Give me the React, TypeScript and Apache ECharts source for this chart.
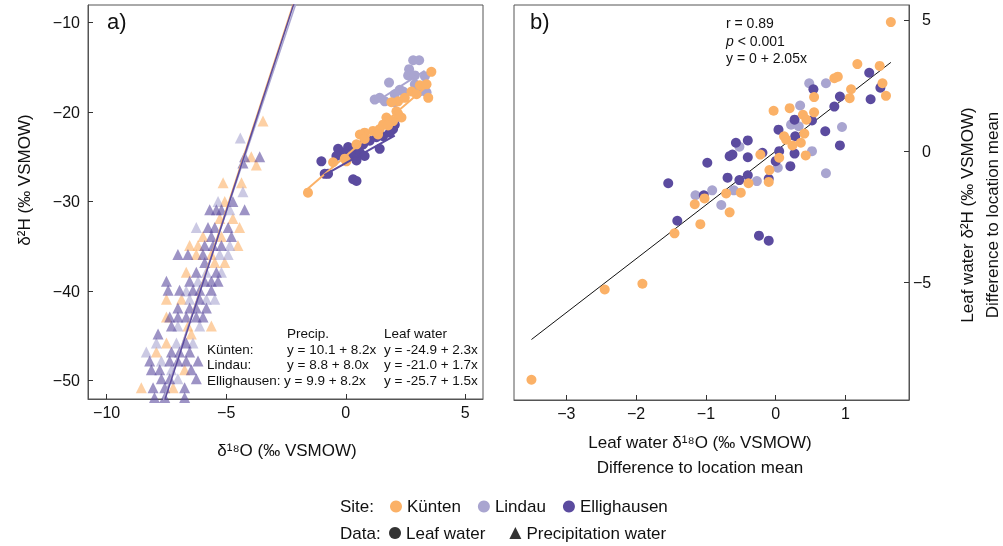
import React, { useEffect, useRef } from "react";
import * as echarts from "echarts";

const FONT = "'Liberation Sans', Arial, Helvetica, sans-serif";

const SITES = ["Künten", "Lindau", "Ellighausen"];
const SITE_COLORS = ["#FBB167", "#A9A5D0", "#5B4B9F"];

// Panel a: precipitation water (δ18O, δ2H)
const precipKunten: number[][] = [
  [-3.46, -21.0], [-3.95, -25.0], [-3.74, -25.9], [-5.13, -27.9], [-4.36, -27.9], [-5.06, -30.0],
  [-5.27, -31.9], [-4.72, -31.9], [-4.44, -32.9], [-5.97, -33.9], [-5.2, -33.9], [-6.53, -34.9],
  [-6.18, -34.9], [-4.51, -34.9], [-6.25, -35.9], [-5.62, -35.9], [-5.48, -36.8], [-5.06, -36.8],
  [-6.67, -37.9], [-7.5, -40.9], [-6.87, -40.9], [-7.5, -42.9], [-6.6, -43.9], [-5.62, -43.9],
  [-6.46, -44.8], [-7.5, -45.8], [-7.92, -46.8], [-6.74, -48.8], [-8.55, -50.8], [-7.22, -50.8],
];
const precipLindau: number[][] = [
  [-4.41, -22.9], [-4.3, -28.9], [-5.34, -30.0], [-4.85, -30.9], [-6.25, -32.9], [-4.85, -34.9],
  [-5.27, -35.9], [-4.92, -35.9], [-5.83, -37.9], [-5.2, -37.9], [-6.18, -38.9], [-6.53, -40.9],
  [-5.83, -40.9], [-5.48, -40.9], [-7.02, -43.9], [-6.11, -43.9], [-7.92, -45.8], [-7.08, -45.8],
  [-6.39, -45.8], [-8.34, -46.8], [-7.71, -47.8], [-7.29, -48.8], [-7.02, -49.8], [-6.67, -40.0],
];
const precipEllighausen: number[][] = [
  [-4.23, -25.0], [-3.6, -25.0], [-4.3, -25.7], [-4.72, -30.0], [-5.69, -30.9], [-5.41, -30.9],
  [-5.2, -30.9], [-4.23, -30.9], [-5.76, -32.9], [-5.48, -32.9], [-4.92, -32.9], [-5.62, -33.9],
  [-4.78, -33.9], [-5.9, -34.9], [-5.55, -34.9], [-5.2, -34.9], [-7.02, -35.9], [-6.6, -35.9],
  [-5.97, -35.9], [-5.9, -36.8], [-6.25, -37.9], [-5.41, -37.9], [-7.5, -38.9], [-6.53, -38.9],
  [-5.9, -38.9], [-5.62, -38.9], [-5.34, -38.9], [-7.43, -39.9], [-6.95, -39.9], [-6.39, -39.9],
  [-6.11, -39.9], [-5.62, -39.9], [-6.11, -40.9], [-7.02, -41.9], [-6.53, -41.9], [-6.25, -41.9],
  [-5.83, -41.9], [-7.36, -42.9], [-7.02, -42.9], [-6.67, -42.9], [-6.25, -42.9], [-5.97, -42.9],
  [-7.29, -43.9], [-7.85, -44.8], [-6.67, -45.8], [-7.29, -46.8], [-6.95, -46.8], [-6.53, -46.8],
  [-8.2, -47.8], [-7.36, -47.8], [-7.02, -47.8], [-6.67, -47.8], [-6.18, -47.8], [-8.13, -48.8],
  [-7.78, -48.8], [-6.46, -48.8], [-7.71, -49.8], [-7.36, -49.8], [-6.25, -49.8], [-8.06, -50.8],
  [-7.57, -50.8], [-6.74, -50.8], [-8.0, -51.9], [-7.57, -51.9], [-6.74, -51.9],
];

// Panel a: leaf water
const leafKunten: number[][] = [
  [3.58, -15.5], [3.1, -17.0], [3.38, -16.9], [2.75, -17.7], [2.96, -18.0], [3.45, -18.4],
  [2.47, -18.4], [2.19, -18.8], [1.91, -18.9], [2.12, -19.9], [2.33, -20.6], [1.7, -20.6],
  [1.98, -21.0], [2.19, -20.2], [1.42, -21.9], [1.56, -21.4], [1.77, -21.5], [0.79, -22.3],
  [1.14, -22.1], [1.35, -22.5], [0.59, -22.5], [0.79, -23.0], [0.45, -23.6], [-0.04, -25.2],
  [0.03, -25.5], [-0.53, -25.6], [-1.58, -29.0],
];
const leafLindau: number[][] = [
  [2.82, -14.2], [3.07, -14.2], [2.65, -15.2], [2.61, -15.9], [2.89, -15.9], [3.31, -16.0],
  [1.81, -16.7], [2.89, -16.9], [2.26, -17.5], [2.4, -17.7], [2.05, -18.0], [1.21, -18.6],
  [1.42, -18.4], [1.63, -18.8], [3.1, -17.7], [3.38, -17.8], [2.05, -18.9],
];
const leafEllighausen: number[][] = [
  [1.98, -21.9], [2.05, -21.4], [1.84, -22.3], [1.56, -22.7], [1.28, -22.8], [1.0, -23.2],
  [0.73, -23.6], [1.42, -24.1], [0.1, -23.9], [0.31, -24.1], [-0.11, -24.5], [0.59, -24.5],
  [0.79, -24.9], [-0.32, -24.1], [-0.39, -24.9], [0.24, -24.9], [0.45, -25.4], [-1.02, -25.5],
  [-0.88, -26.9], [-0.74, -26.9], [0.31, -27.5], [0.45, -27.7],
];

// Panel b: differences to location mean (δ18O, δ2H)
const diffKunten: number[][] = [
  [1.65, 4.92], [1.17, 3.32], [1.49, 3.25], [0.84, 2.78], [0.89, 2.84], [1.53, 2.59], [1.58, 2.11],
  [1.08, 2.36], [1.06, 2.02], [0.55, 2.06], [0.55, 1.48], [-0.03, 1.54], [0.2, 1.64], [0.39, 1.39],
  [0.44, 1.2], [0.12, 0.57], [0.15, 0.44], [0.24, 0.22], [0.36, 0.32], [0.41, 0.67], [0.43, -0.16],
  [-0.22, -0.13], [0.05, -0.25], [-0.09, -0.72], [-0.1, -1.17], [-0.39, -1.22], [-0.5, -1.58],
  [-0.71, -1.61], [-1.02, -1.8], [-1.16, -2.02], [-0.66, -2.33], [-1.08, -2.78], [-1.45, -3.13],
  [-2.45, -5.27], [-1.91, -5.05], [-3.5, -8.71],
];
const diffLindau: number[][] = [
  [0.48, 2.59], [0.72, 2.59], [0.35, 1.74], [0.22, 1.01], [0.33, 0.95], [0.95, 0.92], [-0.52, 0.17],
  [0.52, 0.0], [0.03, -0.63], [-0.27, -1.14], [-0.6, -1.49], [-0.91, -1.49], [-1.15, -1.68],
  [-0.78, -2.05], [0.72, -0.84],
];
const diffEllighausen: number[][] = [
  [1.34, 2.99], [1.5, 2.42], [0.54, 2.36], [0.92, 2.08], [1.36, 1.98], [0.84, 1.7], [0.27, 1.2],
  [0.52, 1.17], [0.04, 0.82], [0.71, 0.76], [0.28, 0.57], [-0.57, 0.32], [-0.4, 0.41], [0.92, 0.22],
  [0.05, 0.0], [-0.19, -0.06], [0.27, -0.09], [-0.66, -0.19], [-0.62, -0.13], [-0.4, -0.23],
  [0.0, -0.38], [-0.98, -0.44], [0.21, -0.57], [-0.69, -1.01], [-0.52, -1.1], [-0.4, -0.92],
  [-0.1, -1.05], [-1.54, -1.22], [-1.03, -1.68], [-1.41, -2.65], [-0.24, -3.22], [-0.1, -3.41],
];

// Regressions
const precipIntercept = [10.1, 8.8, 9.9];
const precipSlope = [8.2, 8.0, 8.2];
const precipXRange = [[-8.8, -1.5], [-8.8, -1.5], [-8.8, -1.5]];
const leafIntercept = [-24.9, -21.0, -25.7];
const leafSlope = [2.3, 1.7, 1.5];
const leafXRange = [[-1.64, 3.5], [1.4, 3.3], [-0.9, 2.05]];
const diffIntercept = 0;
const diffSlope = 2.05;
const diffXRange = [-3.5, 1.65];
const statR = "0.89";
const statP = "0.001";

// Axes
const aXRange = [-10.78, 5.74];
const aYRange = [-52.06, -8.03];
const aXTicks = [-10, -5, 0, 5];
const aYTicks = [-50, -40, -30, -20, -10];
const bXRange = [-3.75, 1.91];
const bYRange = [-9.48, 5.57];
const bXTicks = [-3, -2, -1, 0, 1];
const bYTicks = [-5, 0, 5];

const precipData = [precipKunten, precipLindau, precipEllighausen];
const leafData = [leafKunten, leafLindau, leafEllighausen];
const diffData = [diffKunten, diffLindau, diffEllighausen];

const minus = (v: number) => (v < 0 ? "\u2212" + Math.abs(v) : String(v));
const eq = (a: number, b: number) => `y = ${a.toFixed(1)} + ${b.toFixed(1)}x`;
const lineFrom = (a: number, b: number, r: number[]) => r.map((x) => [x, a + b * x]);

function txt(text: string, x: number, y: number, size: number, extra: any = {}) {
  return {
    type: "text",
    x,
    y,
    silent: true,
    rotation: extra.rotation || 0,
    style: {
      text,
      fill: "#111",
      fontSize: size,
      fontFamily: FONT,
      align: extra.align || "left",
      verticalAlign: "middle",
      textAlign: extra.align || "left",
      textVerticalAlign: "middle",
      lineHeight: extra.lineHeight,
      rich: extra.rich,
    },
  };
}

export default function App() {
  const ref = useRef<HTMLDivElement>(null);
  useEffect(() => {
    if (!ref.current) return;
    const chart = echarts.init(ref.current, undefined, { renderer: "svg" });

    const axisBase = {
      type: "value",
      splitLine: { show: false },
      axisLine: { show: true, onZero: false, lineStyle: { color: "#555", width: 1 } },
      axisTick: { show: true, inside: true, length: 5, lineStyle: { color: "#333", width: 1 } },
      axisLabel: { color: "#111", fontSize: 16, fontFamily: FONT, formatter: minus },
    };

    const series: any[] = [];
    // precip triangles
    SITES.forEach((s, i) => {
      series.push({
        type: "scatter",
        name: s + " precipitation",
        xAxisIndex: 0,
        yAxisIndex: 0,
        symbol: "triangle",
        symbolSize: 11,
        itemStyle: { color: SITE_COLORS[i], opacity: 0.6 },
        data: precipData[i],
        z: 2,
      });
    });
    SITES.forEach((s, i) => {
      series.push({
        type: "line",
        name: s + " precipitation fit",
        xAxisIndex: 0,
        yAxisIndex: 0,
        showSymbol: false,
        symbol: "none",
        clip: true,
        lineStyle: { color: SITE_COLORS[i], width: 1.5 },
        data: lineFrom(precipIntercept[i], precipSlope[i], precipXRange[i]),
        z: 3,
      });
    });
    // leaf water points (panel a)
    [1, 2, 0].forEach((i) => {
      series.push({
        type: "scatter",
        name: SITES[i],
        xAxisIndex: 0,
        yAxisIndex: 0,
        symbol: "circle",
        symbolSize: 10,
        itemStyle: { color: SITE_COLORS[i], opacity: 1 },
        data: leafData[i],
        z: 4,
      });
    });
    SITES.forEach((s, i) => {
      series.push({
        type: "line",
        name: s + " leaf fit",
        xAxisIndex: 0,
        yAxisIndex: 0,
        symbol: "none",
        lineStyle: { color: SITE_COLORS[i], width: 2 },
        data: lineFrom(leafIntercept[i], leafSlope[i], leafXRange[i]),
        z: 5,
      });
    });
    // panel b
    series.push({
      type: "line",
      name: "Overall fit",
      xAxisIndex: 1,
      yAxisIndex: 1,
      symbol: "none",
      lineStyle: { color: "#111", width: 1 },
      data: lineFrom(diffIntercept, diffSlope, diffXRange),
      z: 2,
    });
    [1, 2, 0].forEach((i) => {
      series.push({
        type: "scatter",
        name: SITES[i],
        xAxisIndex: 1,
        yAxisIndex: 1,
        symbol: "circle",
        symbolSize: 10,
        itemStyle: { color: SITE_COLORS[i], opacity: 1 },
        data: diffData[i],
        z: 3,
      });
    });
    // dummy series for data-type legend
    series.push({ type: "scatter", name: "Leaf water", xAxisIndex: 0, yAxisIndex: 0, itemStyle: { color: "#000" }, data: [] });
    series.push({ type: "scatter", name: "Precipitation water", xAxisIndex: 0, yAxisIndex: 0, itemStyle: { color: "#000" }, data: [] });

    const eqRows = SITES.map((s, i) => [
      txt(s + ":", 207, 349 + i * 15.7, 13.5),
      txt(eq(precipIntercept[i], precipSlope[i]), i === 2 ? 284 : 287, 349 + i * 15.7, 13.5),
      txt(eq(leafIntercept[i], leafSlope[i]), 384, 349 + i * 15.7, 13.5),
    ]).flat();

    chart.setOption({
      animation: false,
      textStyle: { fontFamily: FONT },
      grid: [
        { left: 88, top: 5, width: 395, height: 394, show: true, borderColor: "#555", borderWidth: 1, backgroundColor: "transparent" },
        { left: 514, top: 5, width: 395, height: 395, show: true, borderColor: "#555", borderWidth: 1, backgroundColor: "transparent" },
      ],
      xAxis: [
        {
          ...axisBase,
          gridIndex: 0,
          min: aXRange[0],
          max: aXRange[1],
          axisTick: { ...axisBase.axisTick, customValues: aXTicks },
          axisLabel: { ...axisBase.axisLabel, customValues: aXTicks, margin: 5 },
        },
        {
          ...axisBase,
          gridIndex: 1,
          min: bXRange[0],
          max: bXRange[1],
          axisTick: { ...axisBase.axisTick, customValues: bXTicks },
          axisLabel: { ...axisBase.axisLabel, customValues: bXTicks, margin: 5 },
        },
      ],
      yAxis: [
        {
          ...axisBase,
          gridIndex: 0,
          min: aYRange[0],
          max: aYRange[1],
          axisTick: { ...axisBase.axisTick, customValues: aYTicks },
          axisLabel: { ...axisBase.axisLabel, customValues: aYTicks, margin: 8 },
        },
        {
          ...axisBase,
          gridIndex: 1,
          position: "right",
          min: bYRange[0],
          max: bYRange[1],
          axisTick: { ...axisBase.axisTick, customValues: bYTicks },
          axisLabel: {
            ...axisBase.axisLabel,
            customValues: bYTicks,
            margin: 4,
            formatter: (v: number) => (v < 0 ? "\u2212" + Math.abs(v) : "\u2007" + v),
          },
        },
      ],
      legend: [
        {
          left: 390,
          top: 498,
          padding: 0,
          itemWidth: 12,
          itemHeight: 12,
          itemGap: 17,
          selectedMode: false,
          textStyle: { fontSize: 17, color: "#111", fontFamily: FONT },
          data: SITES.map((name) => ({ name, icon: "circle" })),
        },
        {
          left: 389,
          top: 524.5,
          padding: 0,
          itemWidth: 12,
          itemHeight: 12,
          itemGap: 24,
          selectedMode: false,
          textStyle: { fontSize: 17, color: "#111", fontFamily: FONT },
          data: [
            { name: "Leaf water", icon: "circle" },
            { name: "Precipitation water", icon: "triangle" },
          ],
        },
      ],
      graphic: [
        txt("a)", 107, 21, 22),
        txt("b)", 530, 21, 22),
        txt("Precip.", 287, 333, 13.5),
        txt("Leaf water", 384, 333, 13.5),
        ...eqRows,
        txt(`r = ${statR}`, 726, 23, 14),
        txt(`{i|p} < ${statP}`, 726, 40.5, 14, {
          rich: { i: { fontStyle: "italic", fontSize: 14, fontFamily: FONT, fill: "#111" } },
        }),
        txt(`y = ${diffIntercept} + ${diffSlope}x`, 726, 58, 14),
        txt("δ²H (‰ VSMOW)", 24, 180, 17, { rotation: Math.PI / 2, align: "center" }),
        txt("δ¹⁸O (‰ VSMOW)", 287, 450, 17, { align: "center" }),
        txt("Leaf water δ¹⁸O (‰ VSMOW)\nDifference to location mean", 700, 454.5, 17, { align: "center", lineHeight: 25 }),
        txt("Leaf water δ²H (‰ VSMOW)\nDifference to location mean", 980, 215, 17, {
          rotation: Math.PI / 2,
          align: "center",
          lineHeight: 25,
        }),
        txt("Site:", 340, 506.5, 17),
        txt("Data:", 340, 533, 17),
      ],
      series,
    });
    return () => chart.dispose();
  }, []);
  return <div ref={ref} style={{ position: "fixed", left: 0, top: 0, width: 1003, height: 546 }} />;
}
